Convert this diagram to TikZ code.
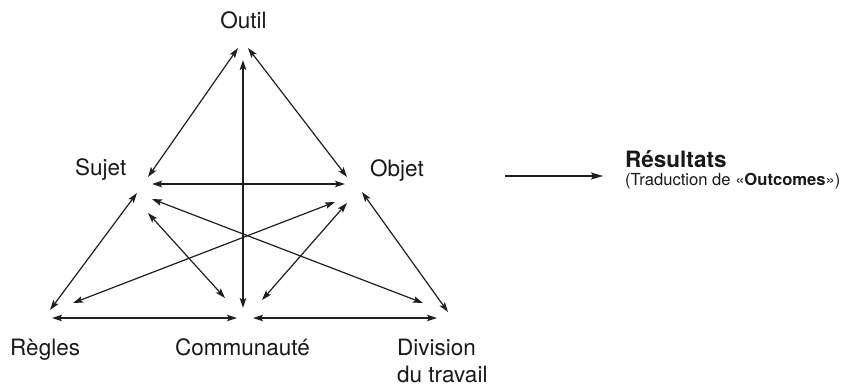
\documentclass[tikz,border=0pt]{standalone}
\usepackage{fontspec}
\setmainfont{TeX Gyre Heros}
\usetikzlibrary{arrows.meta}
\begin{document}
\begin{tikzpicture}[x=1pt,y=-1pt,
  lbl/.style={inner sep=0pt,font=\fontsize{22.5}{27}\selectfont,text=black!90},
  sub/.style={inner sep=0pt,font=\fontsize{16.6}{19}\selectfont,text=black!90},
  link/.style={line width=1.2pt,draw=black!88,{Stealth[length=10pt,width=6.5pt,inset=2pt]}-{Stealth[length=10pt,width=6.5pt,inset=2pt]}},
  oneway/.style={line width=1.2pt,draw=black!88,-{Stealth[length=12pt,width=7pt,inset=2pt]}}]
\useasboundingbox (0,0) rectangle (842,386);
% labels
\node[lbl,anchor=base] (outil) at (243.5,28) {Outil};
\node[lbl,anchor=base west] (sujet) at (75,175) {Sujet};
\node[lbl,anchor=base west] (objet) at (370,176) {Objet};
\node[lbl,anchor=base west] (regles) at (10,355) {Règles};
\node[lbl,anchor=base west] (commu) at (175,355) {Communauté};
\node[lbl,anchor=base west] (divi) at (397,355) {Division};
\node[lbl,anchor=base west] (divi2) at (397,382) {du travail};
\node[lbl,anchor=base west] (res) at (625,167) {\bfseries Résultats};
\node[sub,anchor=base west] (trad) at (625,185) {(Traduction de «\textbf{Outcomes}»)};
% endpoints
\coordinate (os1) at (238,48);  \coordinate (os2) at (148,177);
\coordinate (oo1) at (248,48);  \coordinate (oo2) at (347,177);
\coordinate (oc1) at (243,60);  \coordinate (oc2) at (243,308);
\coordinate (sj1) at (152,184); \coordinate (sj2) at (345,184);
\coordinate (sr1) at (137,193); \coordinate (sr2) at (50,310);
\coordinate (sd1) at (152,199); \coordinate (sd2) at (423,303);
\coordinate (sc1) at (148,213); \coordinate (sc2) at (225,298);
\coordinate (ro1) at (73,303);  \coordinate (ro2) at (335,202);
\coordinate (ob1) at (347,203); \coordinate (ob2) at (262,300);
\coordinate (od1) at (362,192); \coordinate (od2) at (448,312);
\coordinate (rc1) at (52,318);  \coordinate (rc2) at (237,318);
\coordinate (cd1) at (253,318); \coordinate (cd2) at (437,318);
\coordinate (ra1) at (505,176); \coordinate (ra2) at (603,176);
% connectors
\draw[link] (os1) -- (os2);
\draw[link] (oo1) -- (oo2);
\draw[link] (oc1) -- (oc2);
\draw[link] (sj1) -- (sj2);
\draw[link] (sr1) -- (sr2);
\draw[link] (sd1) -- (sd2);
\draw[link] (sc1) -- (sc2);
\draw[link] (ro1) -- (ro2);
\draw[link] (ob1) -- (ob2);
\draw[link] (od1) -- (od2);
\draw[link] (rc1) -- (rc2);
\draw[link] (cd1) -- (cd2);
\draw[oneway] (ra1) -- (ra2);
\end{tikzpicture}
\end{document}
